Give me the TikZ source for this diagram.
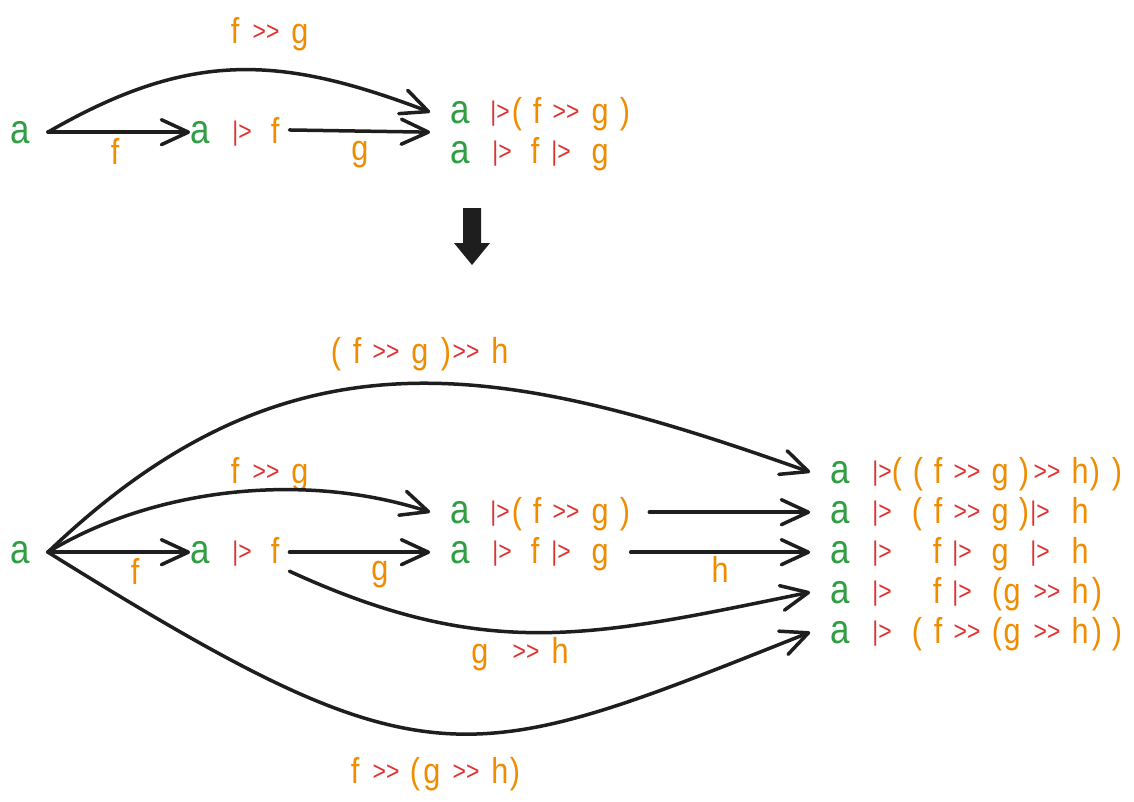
\documentclass[tikz,border=0pt]{standalone}
\usepackage{fontspec}
\setmainfont{Liberation Sans}[FakeStretch=0.85, Ligatures=TeXOff]
\usetikzlibrary{arrows.meta, calc}
\definecolor{grn}{HTML}{2F9E44}
\definecolor{orn}{HTML}{F08C00}
\definecolor{redop}{HTML}{E03131}
\definecolor{ink}{HTML}{1E1E1E}

\begin{document}
\begin{tikzpicture}[x=1pt, y=-1pt,
  every node/.style={inner sep=0pt, anchor=base},
  va/.style={text=grn, font=\fontsize{41}{41}\selectfont},
  fn/.style={text=orn, font=\fontsize{36}{36}\selectfont},
  op/.style={text=redop, font=\fontsize{27}{27}\selectfont, yshift=3pt},
  arr/.style={ink, line width=3.5pt, line cap=round, -{Straight Barb[length=27pt,width=25pt,round]}}]

\fill[white] (0,0) rectangle (1134,801);
\useasboundingbox (0,0) rectangle (1134,801);

% Top: two steps
\node[va] (t0) at (20,143) {a};
\foreach \s/\x/\t [count=\i] in {va/200/a, op/242/{|>}, fn/275/f}
  \node[\s] (t1-\i) at (\x,143) {\t};
\foreach \s/\x/\t [count=\i] in {va/460/a, op/500/{|>}, fn/517/{(}, fn/537/f, op/566/{>>}, fn/600/g, fn/625/{)}}
  \node[\s] (t2a-\i) at (\x,123) {\t};
\foreach \s/\x/\t [count=\i] in {va/460/a, op/502/{|>}, fn/535/f, op/561/{|>}, fn/600/g}
  \node[\s] (t2b-\i) at (\x,163) {\t};

% Top labels
\foreach \s/\x/\t [count=\i] in {fn/235/f, op/266/{>>}, fn/300/g}
  \node[\s] (tl-\i) at (\x,43) {\t};
\node[fn] (tlf) at (115,164) {f};
\node[fn] (tlg) at (360,160) {g};

% Top arrows
\draw[arr] ([xshift=18pt]t0.east) -- (t1-1.west);
\draw[arr] ([xshift=10pt]t1-3.east) -- ($(t2a-1.west)!.5!(t2b-1.west)+(-20,0)$);
\draw[arr] ([xshift=18pt]t0.east) .. controls (190,50) and (280,55) .. ([xshift=-20pt]t2a-1.west);

% Down arrow
\fill[ink] (463,208) -- (481,208) -- (481,243) -- (490,243) -- (472,265) -- (454,243) -- (463,243) -- cycle;

% Bottom: three steps
\node[va] (b0) at (20,563) {a};
\foreach \s/\x/\t [count=\i] in {va/200/a, op/242/{|>}, fn/275/f}
  \node[\s] (b1-\i) at (\x,563) {\t};
\foreach \s/\x/\t [count=\i] in {va/460/a, op/500/{|>}, fn/517/{(}, fn/537/f, op/566/{>>}, fn/600/g, fn/625/{)}}
  \node[\s] (b2-\i) at (\x,523) {\t};
\foreach \s/\x/\t [count=\i] in {va/460/a, op/502/{|>}, fn/535/f, op/561/{|>}, fn/600/g}
  \node[\s] (b3-\i) at (\x,563) {\t};

% Results
\foreach \s/\x/\t [count=\i] in {va/840/a, op/882/{|>}, fn/897/{(}, fn/918/{(}, fn/938/f, op/967/{>>}, fn/1000/g, fn/1024/{)}, op/1047/{>>}, fn/1080/h, fn/1095/{)}, fn/1117/{)}}
  \node[\s] (r1-\i) at (\x,483) {\t};
\foreach \s/\x/\t [count=\i] in {va/840/a, op/882/{|>}, fn/917/{(}, fn/938/f, op/967/{>>}, fn/1000/g, fn/1024/{)}, op/1040/{|>}, fn/1080/h}
  \node[\s] (r2-\i) at (\x,523) {\t};
\foreach \s/\x/\t [count=\i] in {va/840/a, op/882/{|>}, fn/937/f, op/962/{|>}, fn/1000/g, op/1040/{|>}, fn/1080/h}
  \node[\s] (r3-\i) at (\x,563) {\t};
\foreach \s/\x/\t [count=\i] in {va/840/a, op/882/{|>}, fn/937/f, op/962/{|>}, fn/997/{(}, fn/1012/g, op/1047/{>>}, fn/1080/h, fn/1097/{)}}
  \node[\s] (r4-\i) at (\x,603) {\t};
\foreach \s/\x/\t [count=\i] in {va/840/a, op/882/{|>}, fn/917/{(}, fn/938/f, op/967/{>>}, fn/997/{(}, fn/1012/g, op/1047/{>>}, fn/1080/h, fn/1097/{)}, fn/1117/{)}}
  \node[\s] (r5-\i) at (\x,643) {\t};

% Bottom labels
\node[fn] (blf) at (135,584) {f};
\node[fn] (blg) at (380,580) {g};
\node[fn] (blh) at (720,582) {h};
\foreach \s/\x/\t [count=\i] in {fn/235/f, op/266/{>>}, fn/300/g}
  \node[\s] (bfg-\i) at (\x,483) {\t};
\foreach \s/\x/\t [count=\i] in {fn/336/{(}, fn/357/f, op/386/{>>}, fn/420/g, fn/446/{)}, op/466/{>>}, fn/500/h}
  \node[\s] (bfgh-\i) at (\x,363) {\t};
\foreach \s/\x/\t [count=\i] in {fn/480/g, op/526/{>>}, fn/560/h}
  \node[\s] (bgh-\i) at (\x,663) {\t};
\foreach \s/\x/\t [count=\i] in {fn/355/f, op/386/{>>}, fn/415/{(}, fn/432/g, op/466/{>>}, fn/500/h, fn/515/{)}}
  \node[\s] (bfhg-\i) at (\x,783) {\t};

% Bottom arrows
\draw[arr] ([xshift=18pt]b0.east) -- (b1-1.west);
\draw[arr] ([xshift=10pt]b1-3.east |- b3-1.west) -- ([xshift=-20pt]b3-1.west);
\draw[arr] ([xshift=18pt]b0.east) .. controls (150,490) and (300,470) .. ([xshift=-20pt]b2-1.west);
\draw[arr] ([xshift=18pt]b0.east) .. controls (290,320) and (500,362) .. ([xshift=-20pt]r1-1.west);
\draw[arr] ($(b2-7.east |- r2-1.west)+(19,0)$) -- ([xshift=-20pt]r2-1.west);
\draw[arr] ($(b3-5.east |- r3-1.west)+(22,0)$) -- ([xshift=-20pt]r3-1.west);
\draw[arr] ([xshift=10pt,yshift=-8pt]b1-3.south east) .. controls (489,663) and (595,636) .. ([xshift=-20pt]r4-1.west);
\draw[arr] ([xshift=18pt]b0.east) .. controls (430,790) and (463,770) .. ([xshift=-20pt]r5-1.west);

\end{tikzpicture}
\end{document}
